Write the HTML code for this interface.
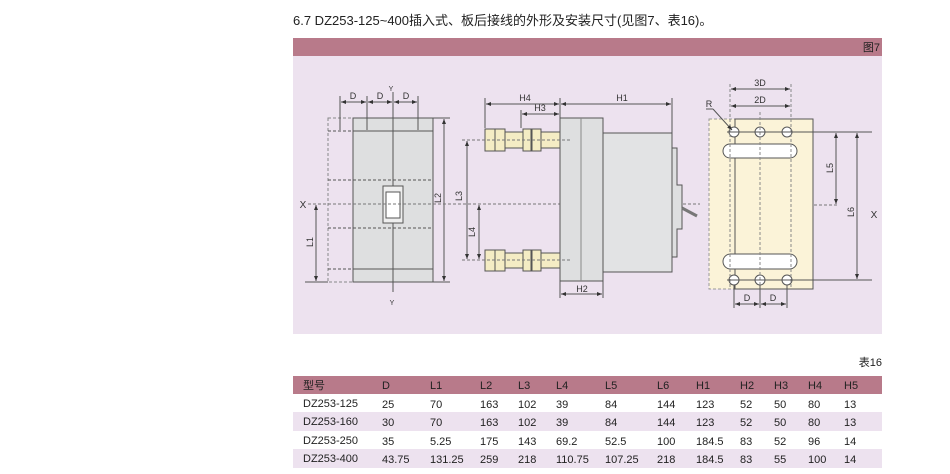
<!DOCTYPE html>
<html><head><meta charset="utf-8"><style>
body{margin:0;background:#fff;width:950px;height:474px;overflow:hidden;font-family:"Liberation Sans","Noto Sans CJK SC",sans-serif;}
svg{position:absolute;left:0;top:0}
</style></head><body>
<svg width="950" height="474" viewBox="0 0 950 474" font-family="Liberation Sans, Noto Sans CJK SC, sans-serif">
<defs>
<marker id="a" viewBox="0 0 10 10" refX="10" refY="5" markerWidth="7" markerHeight="5" orient="auto-start-reverse"><path d="M0,1 L10,5 L0,9z" fill="#333"/></marker>
</defs>
<text x="293" y="25" font-size="13" fill="#222">6.7 DZ253-125~400插入式、板后接线的外形及安装尺寸(见图7、表16)。</text>
<rect x="293" y="38" width="589" height="18" fill="#b87a8a"/>
<text x="880" y="51" font-size="11" fill="#222" text-anchor="end">图7</text>
<rect x="293" y="56" width="589" height="278" fill="#ede2ef"/>

<g stroke="#555" stroke-width="1" fill="none">
<!-- left view -->
<rect x="328" y="118" width="25" height="164" stroke-dasharray="3,2" stroke="#888"/>
<rect x="353" y="118" width="80" height="164" fill="#dedfe0"/>
<line x1="353" y1="131" x2="433" y2="131"/>
<line x1="353" y1="269" x2="433" y2="269"/>
<line x1="328" y1="131" x2="353" y2="131" stroke-dasharray="3,2"/>
<line x1="328" y1="269" x2="353" y2="269" stroke-dasharray="3,2"/>
<line x1="328" y1="180" x2="433" y2="180" stroke-dasharray="3,2"/>
<line x1="328" y1="228" x2="433" y2="228" stroke-dasharray="3,2"/>
<line x1="393" y1="92" x2="393" y2="292"/>
<rect x="383" y="186" width="20" height="37" fill="#eee"/>
<rect x="386" y="192" width="14" height="26" fill="#fff"/>
<line x1="340" y1="96" x2="340" y2="130"/><line x1="367" y1="96" x2="367" y2="130"/><line x1="418" y1="96" x2="418" y2="130"/>
<line x1="341" y1="102" x2="366" y2="102" marker-start="url(#a)" marker-end="url(#a)"/>
<line x1="368" y1="102" x2="392" y2="102" marker-start="url(#a)" marker-end="url(#a)"/>
<line x1="394" y1="102" x2="417" y2="102" marker-start="url(#a)" marker-end="url(#a)"/>
<line x1="433" y1="118" x2="450" y2="118"/><line x1="433" y1="282" x2="450" y2="282"/>
<line x1="444" y1="119" x2="444" y2="281" marker-start="url(#a)" marker-end="url(#a)"/>
<line x1="305" y1="282" x2="328" y2="282"/>
<line x1="316" y1="205" x2="316" y2="281" marker-start="url(#a)" marker-end="url(#a)"/>
<line x1="308" y1="204" x2="700" y2="204" stroke-dasharray="3,2" stroke="#777"/>
<line x1="709" y1="205" x2="838" y2="205" stroke-dasharray="3,2" stroke="#777"/>
<!-- middle -->
<line x1="485" y1="98" x2="485" y2="128"/><line x1="521" y1="110" x2="521" y2="128"/><line x1="560" y1="98" x2="560" y2="118"/><line x1="672" y1="98" x2="672" y2="133"/>
<line x1="486" y1="104" x2="559" y2="104" marker-start="url(#a)" marker-end="url(#a)"/>
<line x1="522" y1="114" x2="559" y2="114" marker-start="url(#a)" marker-end="url(#a)"/>
<line x1="561" y1="104" x2="671" y2="104" marker-start="url(#a)" marker-end="url(#a)"/>
<path d="M672,133 L672,148 L677,148 L677,185 L682,185 L682,229 L677,229 L677,257 L672,257 L672,272" fill="#dedfe0"/>
<rect x="603" y="133" width="69" height="139" fill="#e2e3e4"/>
<rect x="560" y="118" width="43" height="163" fill="#dedfe0"/>
<line x1="581" y1="118" x2="581" y2="281" stroke="#888"/>
<line x1="682" y1="208" x2="697" y2="216" stroke-width="3" stroke="#777"/>
<g fill="#f4ecc4">
<rect x="505" y="132" width="55" height="16"/><rect x="485" y="129" width="20" height="22"/><line x1="495" y1="129" x2="495" y2="151"/><rect x="523" y="129" width="8" height="22"/><rect x="532" y="129" width="9" height="22"/>
<rect x="505" y="253" width="55" height="15"/><rect x="485" y="250" width="20" height="21"/><line x1="495" y1="250" x2="495" y2="271"/><rect x="523" y="250" width="8" height="21"/><rect x="532" y="250" width="9" height="21"/>
</g>
<line x1="462" y1="140" x2="572" y2="140" stroke-dasharray="3,2" stroke="#777"/>
<line x1="462" y1="260" x2="572" y2="260" stroke-dasharray="3,2" stroke="#777"/>
<line x1="467" y1="141" x2="467" y2="259" marker-start="url(#a)" marker-end="url(#a)"/>
<line x1="479" y1="205" x2="479" y2="259" marker-start="url(#a)" marker-end="url(#a)"/>
<line x1="560" y1="281" x2="560" y2="298"/><line x1="603" y1="281" x2="603" y2="298"/>
<line x1="561" y1="294" x2="602" y2="294" marker-start="url(#a)" marker-end="url(#a)"/>
<!-- right -->
<rect x="709" y="119" width="26" height="170" fill="#fbf3d8" stroke-dasharray="3,2" stroke="#999"/>
<rect x="735" y="119" width="78" height="170" fill="#fbf3d8"/>
<rect x="723" y="144" width="74" height="14" rx="7" fill="#fff"/>
<rect x="723" y="254" width="74" height="15" rx="7.5" fill="#fff"/>
<g fill="#fff"><circle cx="734" cy="132" r="5"/><circle cx="760" cy="132" r="5"/><circle cx="787" cy="132" r="5"/><circle cx="734" cy="280" r="5"/><circle cx="760" cy="280" r="5"/><circle cx="787" cy="280" r="5"/></g>
<g stroke-dasharray="3,2" stroke="#888"><line x1="730" y1="84" x2="730" y2="289"/><line x1="760" y1="112" x2="760" y2="289"/><line x1="791" y1="84" x2="791" y2="289"/></g>
<line x1="731" y1="89" x2="790" y2="89" marker-start="url(#a)" marker-end="url(#a)"/>
<line x1="731" y1="106" x2="790" y2="106" marker-start="url(#a)" marker-end="url(#a)"/>
<line x1="706" y1="109" x2="713" y2="109"/><line x1="713" y1="109" x2="732" y2="130" marker-end="url(#a)"/>
<line x1="727" y1="132" x2="872" y2="132"/><line x1="727" y1="280" x2="872" y2="280"/>
<line x1="836" y1="133" x2="836" y2="204" marker-start="url(#a)" marker-end="url(#a)"/>
<line x1="857" y1="133" x2="857" y2="279" marker-start="url(#a)" marker-end="url(#a)"/>
<line x1="734" y1="285" x2="734" y2="308"/><line x1="760" y1="285" x2="760" y2="308"/><line x1="787" y1="285" x2="787" y2="308"/>
<line x1="735" y1="304" x2="759" y2="304" marker-start="url(#a)" marker-end="url(#a)"/>
<line x1="761" y1="304" x2="786" y2="304" marker-start="url(#a)" marker-end="url(#a)"/>
</g>
<g font-size="9" fill="#333" text-anchor="middle">
<text x="353" y="99">D</text><text x="380" y="99">D</text><text x="406" y="99">D</text>
<text x="391" y="91" font-size="7">Y</text><text x="392" y="305" font-size="7">Y</text>
<text x="303" y="208" font-size="10">X</text><text x="874" y="218" font-size="10">X</text>
<text x="525" y="101">H4</text><text x="540" y="111">H3</text><text x="622" y="101">H1</text><text x="582" y="292">H2</text>
<text x="760" y="86">3D</text><text x="760" y="103">2D</text><text x="709" y="107">R</text>
<text x="747" y="301">D</text><text x="773" y="301">D</text>
<text transform="translate(441,198) rotate(-90)">L2</text>
<text transform="translate(313,242) rotate(-90)">L1</text>
<text transform="translate(462,196) rotate(-90)">L3</text>
<text transform="translate(475,232) rotate(-90)">L4</text>
<text transform="translate(833,168) rotate(-90)">L5</text>
<text transform="translate(854,212) rotate(-90)">L6</text>
</g>

<text x="882" y="366" font-size="11" fill="#222" text-anchor="end">表16</text>
<rect x="293" y="376" width="589" height="18" fill="#b87a8a"/>
<rect x="293" y="412" width="589" height="19" fill="#ede2ef"/>
<rect x="293" y="449" width="589" height="19" fill="#ede2ef"/>
<g font-size="11" fill="#222">
<text x="303" y="389">型号</text><text x="382" y="389">D</text><text x="430" y="389">L1</text><text x="480" y="389">L2</text><text x="518" y="389">L3</text><text x="556" y="389">L4</text><text x="605" y="389">L5</text><text x="657" y="389">L6</text><text x="696" y="389">H1</text><text x="740" y="389">H2</text><text x="774" y="389">H3</text><text x="808" y="389">H4</text><text x="844" y="389">H5</text>
<text x="303" y="407">DZ253-125</text><text x="382" y="408">25</text><text x="430" y="408">70</text><text x="480" y="408">163</text><text x="518" y="408">102</text><text x="556" y="408">39</text><text x="605" y="408">84</text><text x="657" y="408">144</text><text x="696" y="408">123</text><text x="740" y="408">52</text><text x="774" y="408">50</text><text x="808" y="408">80</text><text x="844" y="408">13</text>
<text x="303" y="425">DZ253-160</text><text x="382" y="426">30</text><text x="430" y="426">70</text><text x="480" y="426">163</text><text x="518" y="426">102</text><text x="556" y="426">39</text><text x="605" y="426">84</text><text x="657" y="426">144</text><text x="696" y="426">123</text><text x="740" y="426">52</text><text x="774" y="426">50</text><text x="808" y="426">80</text><text x="844" y="426">13</text>
<text x="303" y="444">DZ253-250</text><text x="382" y="445">35</text><text x="430" y="445">5.25</text><text x="480" y="445">175</text><text x="518" y="445">143</text><text x="556" y="445">69.2</text><text x="605" y="445">52.5</text><text x="657" y="445">100</text><text x="696" y="445">184.5</text><text x="740" y="445">83</text><text x="774" y="445">52</text><text x="808" y="445">96</text><text x="844" y="445">14</text>
<text x="303" y="462">DZ253-400</text><text x="382" y="463">43.75</text><text x="430" y="463">131.25</text><text x="480" y="463">259</text><text x="518" y="463">218</text><text x="556" y="463">110.75</text><text x="605" y="463">107.25</text><text x="657" y="463">218</text><text x="696" y="463">184.5</text><text x="740" y="463">83</text><text x="774" y="463">55</text><text x="808" y="463">100</text><text x="844" y="463">14</text>
</g>
</svg>
</body></html>
